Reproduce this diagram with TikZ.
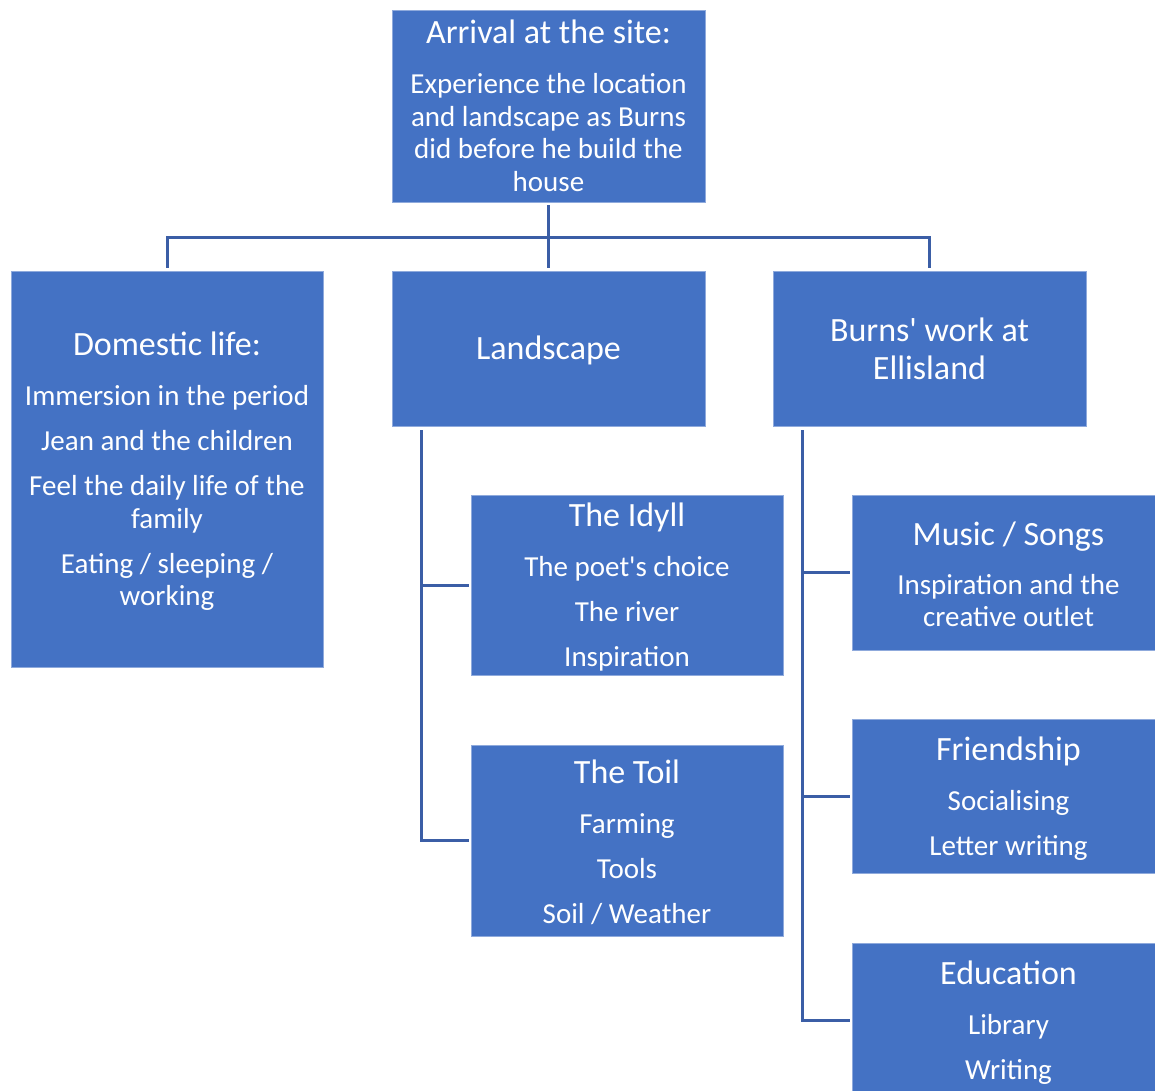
\documentclass[tikz,border=0pt]{standalone}
\usepackage{fontspec}
\setmainfont{Carlito}
\usetikzlibrary{calc}
\definecolor{boxblue}{HTML}{4472C4}
\definecolor{boxedge}{HTML}{8FAADC}
\definecolor{linkblue}{HTML}{3B5EA6}
\newcommand\ttlfont{\fontsize{34}{38}\selectfont}
\newcommand\bodyfont{\fontsize{29}{32.5}\selectfont}
\newcommand\tstrut{\rule{0pt}{28pt}}
\newcommand\apos{\textquotesingle}
\tikzset{
  card/.style={rectangle, fill=boxblue, draw=boxedge, line width=0.8pt, text=white,
    align=center, inner sep=0pt, minimum width=313pt, font=\bodyfont},
  link/.style={draw=linkblue, line width=3pt}
}
\begin{document}
\begin{tikzpicture}[x=1pt,y=-1pt]
\useasboundingbox (0,0) rectangle (1155,1090);
\clip (0,0) rectangle (1155,1090);
\fill[white] (0,0) rectangle (1155,1090);

\node[card, minimum height=192pt] (top) at (548.5,106)
  {{\ttlfont Arrival at the site:}\\[17.5pt]Experience the location\\and landscape as Burns\\did before he build the\\house};
\node[card, minimum width=312pt, minimum height=396pt] (dom) at (167,469)
  {{\ttlfont\tstrut Domestic life:}\\[17.5pt]Immersion in the period\\[12.5pt]Jean and the children\\[12.5pt]Feel the daily life of the\\family\\[12.5pt]Eating / sleeping /\\working};
\node[card, minimum height=155pt, font=\ttlfont] (land) at (548.5,348.5) {\tstrut Landscape};
\node[card, minimum height=155pt, font=\ttlfont] (burns) at (929.5,348.5) {Burns\apos{} work at\\Ellisland};
\node[card, minimum width=312pt, minimum height=180pt] (idyll) at (627,585)
  {{\ttlfont\tstrut The Idyll}\\[17.5pt]The poet\apos{}s choice\\[12.5pt]The river\\[12.5pt]Inspiration};
\node[card, minimum width=312pt, minimum height=191pt] (toil) at (627,840.5)
  {{\ttlfont\tstrut The Toil}\\[17.5pt]Farming\\[12.5pt]Tools\\[12.5pt]Soil / Weather};
\node[card, minimum height=155pt] (music) at (1008.5,572.5)
  {{\ttlfont\tstrut Music / Songs}\\[16pt]Inspiration and the\\creative outlet};
\node[card, minimum height=154pt] (friend) at (1008.5,796)
  {{\ttlfont\tstrut Friendship}\\[17.5pt]Socialising\\[12.5pt]Letter writing};
\node[card, minimum height=155pt] (edu) at (1008.5,1020.5)
  {{\ttlfont\tstrut Education}\\[17.5pt]Library\\[12.5pt]Writing};

\draw[link] ($(top.south)+(0,3)$) -- ($(land.north)+(0,-3)$);
\draw[link] ($(top.south)+(0,35)$) -| ($(dom.north)+(0,-3)$);
\draw[link] ($(top.south)+(0,35)$) -| ($(burns.north)+(0,-3)$);

\coordinate (lroot) at ($(land.south west)+(30,4)$);
\draw[link] (lroot) |- ($(idyll.west)+(-2,0)$);
\draw[link] (lroot) |- ($(toil.west)+(-2,0)$);

\coordinate (broot) at ($(burns.south west)+(30,4)$);
\draw[link] (broot) |- ($(music.west)+(-2,0)$);
\draw[link] (broot) |- ($(friend.west)+(-2,0)$);
\draw[link] (broot) |- ($(edu.west)+(-2,0)$);
\end{tikzpicture}
\end{document}
